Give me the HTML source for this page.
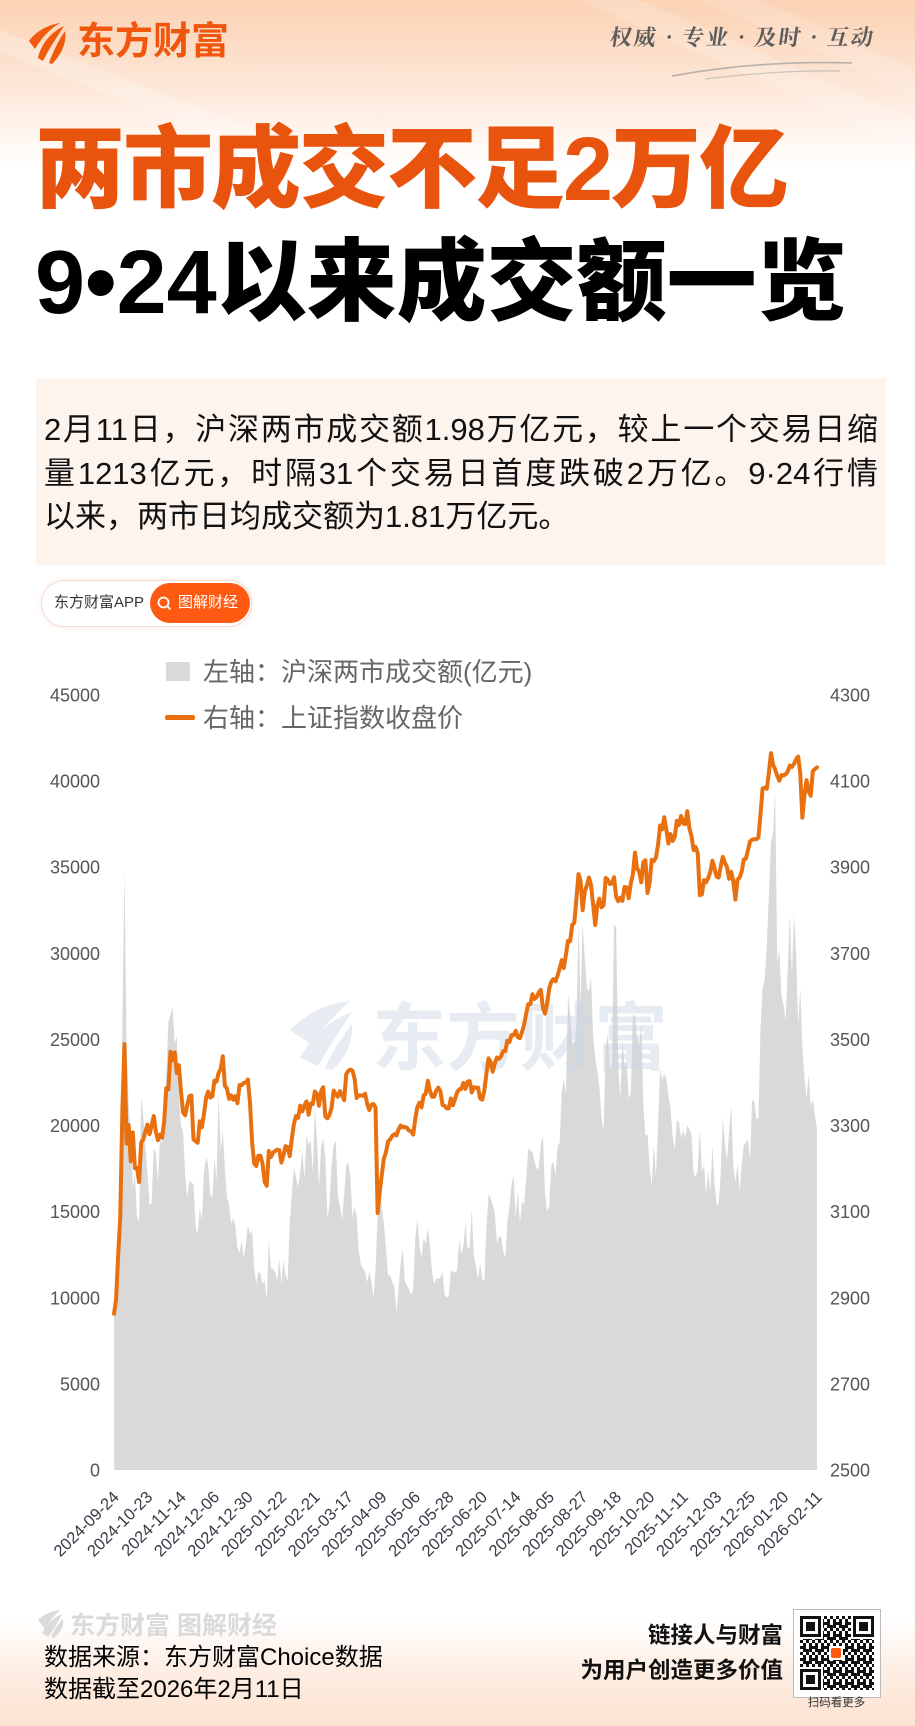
<!DOCTYPE html>
<html><head><meta charset="utf-8"><style>
*{margin:0;padding:0;box-sizing:border-box}
html,body{width:915px;height:1726px;overflow:hidden;background:#fff}
#root{position:relative;width:915px;height:1726px;overflow:hidden;background:#fff;font-family:"Liberation Sans","Noto Sans CJK SC",sans-serif}
.abs{position:absolute;white-space:nowrap}
.cn{font-family:"Liberation Sans","Noto Sans CJK SC",sans-serif}
.pl{position:absolute;left:44px;width:834px;font-size:31px;line-height:43.5px;color:#111;white-space:nowrap}
.j{text-align:justify;text-align-last:justify}
</style></head><body><div id="root">

<!-- header background -->
<div class="abs" style="left:0;top:0;width:915px;height:170px;background:linear-gradient(180deg,#fbd2b4 0%,#fcdcc4 25%,#fde9db 55%,#fff6f0 80%,#ffffff 100%)"></div>
<svg class="abs" style="left:0;top:0" width="915" height="170">
<polygon points="0,30 0,52 300,170 360,170" fill="#fff" opacity="0.22"/>
<polygon points="580,0 640,0 915,120 915,150" fill="#fff" opacity="0.18"/>
<polygon points="700,0 760,0 915,70 915,95" fill="#fff" opacity="0.15"/>
</svg>
<!-- bottom gradient -->
<div class="abs" style="left:0;top:1620px;width:915px;height:106px;background:linear-gradient(180deg,rgba(253,230,214,0) 0%,#fdeee4 45%,#fde3d1 100%)"></div>

<!-- logo -->
<svg class="abs" style="left:0;top:0" width="80" height="80">
<path d="M29,41 C36,31 48,25 60,23 C50,29 42,37 35,49 Z" fill="#f05a0e"/>
<path d="M38,58 C41,44 51,32 64,26 C57,37 50,47 43,61 Z" fill="#f05a0e"/>
<path d="M49,63 C53,51 59,40 65,31 C67,43 61,55 52,64 Z" fill="#f05a0e"/>
</svg>
<div class="abs cn" style="left:77px;top:23px;font-size:38px;line-height:38px;font-weight:700;color:#f0560e">东方财富</div>

<!-- slogan -->
<div class="abs cn" style="left:610px;top:24px;font-size:22px;line-height:26px;font-weight:700;color:#5c5c5c;letter-spacing:2px;transform:skewX(-8deg);font-family:'Noto Serif CJK SC','Liberation Serif',serif">权威 · 专业 · 及时 · 互动</div>
<svg class="abs" style="left:0;top:0" width="915" height="100">
<path d="M672,76 Q760,60 852,63" stroke="#9a9a9a" stroke-width="1.6" fill="none" opacity="0.7"/>
<path d="M705,79 Q780,70 840,71" stroke="#aaaaaa" stroke-width="1.2" fill="none" opacity="0.6"/>
</svg>

<!-- titles -->
<div class="abs cn" style="left:35px;top:125px;font-size:90px;line-height:90px;font-weight:900;color:#e8540e;letter-spacing:-2px">两市成交不足2万亿</div>
<div class="abs cn" style="left:35px;top:238px;font-size:90px;line-height:90px;font-weight:900;color:#000">9•24以来成交额一览</div>

<!-- text box -->
<div class="abs" style="left:36px;top:378px;width:850px;height:187px;background:#fef4ee"></div>
<div class="pl cn j" style="top:408px">2月11日，沪深两市成交额1.98万亿元，较上一个交易日缩</div>
<div class="pl cn j" style="top:451.5px">量1213亿元，时隔31个交易日首度跌破2万亿。9·24行情</div>
<div class="pl cn" style="top:495px">以来，两市日均成交额为1.81万亿元。</div>

<!-- app tag -->
<div class="abs" style="left:41px;top:580px;width:211px;height:47px;border-radius:24px;background:#fff;border:1px solid #f6ddd2;box-shadow:0 0 4px rgba(240,150,120,0.25)"></div>
<div class="abs cn" style="left:54px;top:592px;font-size:15px;line-height:22px;color:#333">东方财富APP</div>
<div class="abs" style="left:150px;top:583px;width:100px;height:40px;border-radius:20px;background:#ff5a12"></div>
<svg class="abs" style="left:156px;top:595px" width="18" height="18"><circle cx="7.5" cy="7.5" r="5" stroke="#fff" stroke-width="1.8" fill="none"/><line x1="11" y1="11" x2="14.5" y2="14.5" stroke="#fff" stroke-width="1.8"/></svg>
<div class="abs cn" style="left:178px;top:592px;font-size:15px;line-height:22px;color:#fff">图解财经</div>

<!-- legend -->
<div class="abs" style="left:166px;top:662px;width:24px;height:19px;background:#d9d9d9"></div>
<div class="abs cn" style="left:203px;top:655px;font-size:26px;line-height:34px;color:#666">左轴：沪深两市成交额(亿元)</div>
<div class="abs" style="left:165px;top:715px;width:30px;height:4.5px;background:#e8700f;border-radius:2px"></div>
<div class="abs cn" style="left:203px;top:701px;font-size:26px;line-height:34px;color:#666">右轴：上证指数收盘价</div>

<!-- chart -->
<svg class="abs" style="left:0;top:0" width="915" height="1726">
<g transform="translate(114,1470) scale(2.0923,-0.0172222)">
<polygon fill="#d9d9d9" points="0,0 0,9700 1,11600 2,11700 3,14400 4,25900 5,34800 6,24700 7,21200 8,19600 9,16400 10,17200 11,14700 12,14400 13,21700 14,20500 15,18800 16,17200 17,15400 18,15500 19,18700 20,18400 21,16700 22,19300 23,18900 24,20600 25,23000 26,26000 27,26400 28,26900 29,24700 30,25200 31,21800 32,20000 33,19600 34,17200 35,15800 36,16800 37,16700 38,16600 39,14100 40,13700 41,15200 42,14500 43,17300 44,18200 45,17700 46,16000 47,15800 48,18100 49,16800 50,21900 51,18500 52,19700 53,17500 54,15800 55,15400 56,14300 57,14600 58,14200 59,12900 60,12600 61,13300 62,12300 63,13100 64,14200 65,13700 66,13900 67,11700 68,10800 69,11500 70,11400 71,10800 72,11000 73,9900 74,13400 75,11700 76,11700 77,11500 78,11000 79,12300 80,10800 81,12200 82,11300 83,11000 84,14400 85,16000 86,17600 87,17000 88,16400 89,17300 90,18500 91,16900 92,19400 93,18900 94,19100 95,17300 96,21100 97,19100 98,16400 99,18800 100,19200 101,18100 102,14600 103,15400 104,17700 105,18900 106,19100 107,15900 108,15300 109,14500 110,16000 111,17700 112,17900 113,16900 114,14600 115,15300 116,14700 117,12700 118,11900 119,11700 120,11500 121,10900 122,11500 123,11000 124,10000 125,11600 126,14800 127,16700 128,15200 129,14300 130,12800 131,11300 132,11300 133,10900 134,10600 135,9200 136,10500 137,12000 138,12800 139,11000 140,10700 141,10500 142,10200 143,10500 144,13500 145,14600 146,13000 147,12300 148,13500 149,13100 150,14100 151,13000 152,11500 153,10800 154,11100 155,11100 156,11200 157,11500 158,10200 159,10000 160,10100 161,11600 162,11500 163,11500 164,11600 165,13400 166,12500 167,13000 168,14400 169,12800 170,13000 171,15100 172,12400 173,11800 174,11100 175,12000 176,11100 177,11000 178,14100 179,16000 180,15800 181,15400 182,14900 183,13200 184,13500 185,13600 186,12700 187,12300 188,14400 189,15300 190,16600 191,17100 192,14700 193,16200 194,14300 195,15600 196,15400 197,16900 198,18700 199,18500 200,18500 201,17900 202,17500 203,17500 204,18900 205,19400 206,16100 207,15000 208,15300 209,17700 210,17900 211,17100 212,18800 213,19000 214,21900 215,22700 216,21800 217,27600 218,26500 219,24800 220,24800 221,25800 222,31800 223,27000 224,31700 225,29700 226,28000 227,27800 228,28600 229,25200 230,23900 231,23200 232,22200 233,20400 234,19700 235,24500 236,25300 237,23200 238,23600 239,31700 240,31500 241,23400 242,21600 243,25000 244,23400 245,23700 246,21600 247,21800 248,26400 249,26400 250,25100 251,24700 252,25900 253,21200 254,19400 255,19500 256,17600 257,16500 258,18900 259,17000 260,19900 261,23300 262,22600 263,23000 264,22700 265,21700 266,21000 267,19400 268,18600 269,20300 270,20200 271,19300 272,19700 273,19300 274,20000 275,19800 276,19500 277,17200 278,17000 279,17500 280,19800 281,17300 282,17700 283,16000 284,17400 285,16100 286,18800 287,16700 288,15400 289,15400 290,17300 291,20500 292,18900 293,18000 294,19700 295,21200 296,17600 297,16700 298,17800 299,16200 300,17700 301,18900 302,19000 303,19200 304,18000 305,21500 306,21400 307,20400 308,20400 309,25600 310,28000 311,28500 312,30500 313,33400 314,36400 315,37000 316,39300 317,29500 318,30200 319,27500 320,27000 321,26100 322,29000 323,32300 324,28800 325,32300 326,30000 327,25800 328,28000 329,24600 330,22800 331,21600 332,23000 333,21100 334,21500 335,20600 336,19800 336,0"/>
</g>
<!-- watermark -->
<g opacity="0.45" fill="#c9d6e3">
<path d="M290,1030 C310,1010 330,1003 350,1001 C335,1015 322,1028 312,1045 Z"/>
<path d="M300,1058 C312,1036 330,1020 352,1012 C340,1030 330,1046 318,1066 Z"/>
<path d="M325,1068 C333,1050 343,1036 352,1024 C353,1042 346,1058 332,1070 Z"/>
<text x="372" y="1064" font-size="74" font-weight="700" font-family="Liberation Sans,Noto Sans CJK SC,sans-serif">东方财富</text>
</g>
<g transform="translate(114,1470) scale(2.0923,-0.43056) translate(0,-2500)">
<polyline fill="none" stroke="#e8700f" stroke-width="4" stroke-linejoin="round" stroke-linecap="round" vector-effect="non-scaling-stroke" points="0,2863 1,2896 2,3000 3,3088 4,3336 5,3489 6,3258 7,3301 8,3217 9,3284 10,3201 11,3202 12,3169 13,3261 14,3268 15,3286 16,3302 17,3280 18,3300 19,3322 20,3286 21,3266 22,3279 23,3272 24,3310 25,3387 26,3384 27,3471 28,3452 29,3470 30,3422 31,3440 32,3380 33,3331 34,3324 35,3347 36,3368 37,3370 38,3268 39,3264 40,3260 41,3310 42,3296 43,3326 44,3364 45,3379 46,3365 47,3368 48,3404 49,3402 50,3422 51,3432 52,3461 53,3392 54,3386 55,3362 56,3370 57,3360 58,3368 59,3352 60,3394 61,3394 62,3399 63,3400 64,3407 65,3352 66,3262 67,3212 68,3206 69,3230 70,3230 71,3211 72,3169 73,3160 74,3241 75,3227 76,3237 77,3241 78,3244 79,3243 80,3214 81,3231 82,3252 83,3250 84,3229 85,3270 86,3304 87,3322 88,3318 89,3346 90,3333 91,3347 92,3356 93,3325 94,3351 95,3350 96,3379 97,3373 98,3346 99,3380 100,3389 101,3321 102,3317 103,3325 104,3342 105,3381 106,3373 107,3367 108,3380 109,3371 110,3359 111,3419 112,3427 113,3430 114,3427 115,3408 116,3364 117,3370 118,3370 119,3369 120,3374 121,3351 122,3336 123,3348 124,3350 125,3342 126,3097 127,3146 128,3186 129,3224 130,3238 131,3263 132,3268 133,3276 134,3280 135,3277 136,3291 137,3300 138,3296 139,3297 140,3295 141,3288 142,3287 143,3279 144,3316 145,3343 146,3353 147,3342 148,3370 149,3374 150,3404 151,3381 152,3367 153,3367 154,3381 155,3388 156,3380 157,3348 158,3346 159,3340 160,3340 161,3363 162,3347 163,3362 164,3377 165,3384 166,3385 167,3399 168,3385 169,3402 170,3403 171,3377 172,3389 173,3388 174,3388 175,3363 176,3360 177,3382 178,3420 179,3456 180,3448 181,3425 182,3444 183,3458 184,3455 185,3461 186,3473 187,3473 188,3497 189,3494 190,3510 191,3510 192,3520 193,3505 194,3503 195,3517 196,3534 197,3560 198,3582 199,3582 200,3605 201,3594 202,3598 203,3609 204,3615 205,3573 206,3560 207,3583 208,3618 209,3634 210,3640 211,3635 212,3648 213,3665 214,3684 215,3666 216,3697 217,3729 218,3728 219,3766 220,3771 221,3826 222,3884 223,3868 224,3800 225,3844 226,3858 227,3876 228,3858 229,3813 230,3766 231,3812 232,3827 233,3807 234,3812 235,3875 236,3871 237,3861 238,3862 239,3877 240,3831 241,3821 242,3829 243,3822 244,3854 245,3853 246,3828 247,3863 248,3883 249,3934 250,3897 251,3890 252,3865 253,3912 254,3916 255,3840 256,3864 257,3917 258,3914 259,3922 260,3951 261,3997 262,3988 263,4016 264,3987 265,3955 266,3977 267,3961 268,3970 269,4008 270,3998 271,4019 272,4002 273,4000 274,4030 275,3991 276,3972 277,3940 278,3947 279,3932 280,3835 281,3837 282,3870 283,3865 284,3875 285,3889 286,3915 287,3898 288,3878 289,3876 290,3903 291,3924 292,3910 293,3900 294,3873 295,3889 296,3867 297,3825 298,3871 299,3876 300,3890 301,3918 302,3920 303,3940 304,3960 305,3964 306,3965 307,3965 308,3969 309,4023 310,4083 311,4085 312,4082 313,4120 314,4165 315,4138 316,4127 317,4112 318,4101 319,4114 320,4113 321,4116 322,4122 323,4136 324,4133 325,4140 326,4151 327,4157 328,4118 329,4015 330,4068 331,4102 332,4076 333,4066 334,4123 335,4128 336,4132"/>
</g>

<!-- y axis labels -->
<g font-family="Liberation Sans,sans-serif" font-size="18" fill="#555">
<g text-anchor="end">
<text x="100" y="701.5">45000</text>
<text x="100" y="787.6">40000</text>
<text x="100" y="873.7">35000</text>
<text x="100" y="959.8">30000</text>
<text x="100" y="1045.9">25000</text>
<text x="100" y="1132.1">20000</text>
<text x="100" y="1218.2">15000</text>
<text x="100" y="1304.3">10000</text>
<text x="100" y="1390.4">5000</text>
<text x="100" y="1476.5">0</text>
</g>
<text x="830" y="701.5">4300</text>
<text x="830" y="787.6">4100</text>
<text x="830" y="873.7">3900</text>
<text x="830" y="959.8">3700</text>
<text x="830" y="1045.9">3500</text>
<text x="830" y="1132.1">3300</text>
<text x="830" y="1218.2">3100</text>
<text x="830" y="1304.3">2900</text>
<text x="830" y="1390.4">2700</text>
<text x="830" y="1476.5">2500</text>
</g>

<!-- x axis labels -->
<g font-family="Liberation Sans,sans-serif" font-size="16.5" fill="#3a3a48" text-anchor="end">
<text transform="translate(120,1498) rotate(-45)">2024-09-24</text>
<text transform="translate(153.5,1498) rotate(-45)">2024-10-23</text>
<text transform="translate(187,1498) rotate(-45)">2024-11-14</text>
<text transform="translate(220.4,1498) rotate(-45)">2024-12-06</text>
<text transform="translate(253.9,1498) rotate(-45)">2024-12-30</text>
<text transform="translate(287.4,1498) rotate(-45)">2025-01-22</text>
<text transform="translate(320.9,1498) rotate(-45)">2025-02-21</text>
<text transform="translate(354.3,1498) rotate(-45)">2025-03-17</text>
<text transform="translate(387.8,1498) rotate(-45)">2025-04-09</text>
<text transform="translate(421.3,1498) rotate(-45)">2025-05-06</text>
<text transform="translate(454.8,1498) rotate(-45)">2025-05-28</text>
<text transform="translate(488.2,1498) rotate(-45)">2025-06-20</text>
<text transform="translate(521.7,1498) rotate(-45)">2025-07-14</text>
<text transform="translate(555.2,1498) rotate(-45)">2025-08-05</text>
<text transform="translate(588.7,1498) rotate(-45)">2025-08-27</text>
<text transform="translate(622.2,1498) rotate(-45)">2025-09-18</text>
<text transform="translate(655.6,1498) rotate(-45)">2025-10-20</text>
<text transform="translate(689.1,1498) rotate(-45)">2025-11-11</text>
<text transform="translate(722.6,1498) rotate(-45)">2025-12-03</text>
<text transform="translate(756.1,1498) rotate(-45)">2025-12-25</text>
<text transform="translate(789.5,1498) rotate(-45)">2026-01-20</text>
<text transform="translate(823,1498) rotate(-45)">2026-02-11</text>
</g>

<!-- footer watermark -->
<g fill="#dadada">
<path d="M38,1620 C44,1614 52,1611 60,1610 C54,1616 49,1622 45,1629 Z"/>
<path d="M42,1633 C46,1625 53,1618 62,1614 C58,1622 54,1629 48,1637 Z"/>
<path d="M51,1637 C54,1630 58,1624 63,1619 C64,1627 60,1633 54,1638 Z"/>
<text x="70" y="1634" font-size="25" font-weight="700" font-family="Liberation Sans,Noto Sans CJK SC,sans-serif">东方财富 图解财经</text>
</g>

<!-- QR code -->
<defs>
<pattern id="qr" x="800" y="1616" width="12" height="12" patternUnits="userSpaceOnUse">
<rect x="0" y="0" width="3" height="3" fill="#111"/><rect x="6" y="0" width="3" height="3" fill="#111"/>
<rect x="3" y="3" width="3" height="3" fill="#111"/><rect x="9" y="3" width="3" height="3" fill="#111"/>
<rect x="0" y="6" width="6" height="3" fill="#111"/><rect x="9" y="6" width="3" height="3" fill="#111"/>
<rect x="6" y="9" width="6" height="3" fill="#111"/><rect x="3" y="9" width="3" height="3" fill="#111"/>
</pattern>
</defs>
<rect x="793.5" y="1609.5" width="87" height="88" fill="#fff" stroke="#bbb" stroke-width="1"/>
<rect x="800" y="1616" width="74" height="74" fill="url(#qr)"/>
<g>
<rect x="799" y="1615" width="24" height="24" fill="#fff"/><rect x="800" y="1616" width="21" height="21" fill="#111"/><rect x="803" y="1619" width="15" height="15" fill="#fff"/><rect x="806" y="1622" width="9" height="9" fill="#111"/>
<rect x="851" y="1615" width="24" height="24" fill="#fff"/><rect x="853" y="1616" width="21" height="21" fill="#111"/><rect x="856" y="1619" width="15" height="15" fill="#fff"/><rect x="859" y="1622" width="9" height="9" fill="#111"/>
<rect x="799" y="1667" width="24" height="24" fill="#fff"/><rect x="800" y="1669" width="21" height="21" fill="#111"/><rect x="803" y="1672" width="15" height="15" fill="#fff"/><rect x="806" y="1675" width="9" height="9" fill="#111"/>
<rect x="829" y="1646" width="14" height="14" fill="#fff"/><rect x="831" y="1648" width="10" height="10" rx="2" fill="#ff5a12"/>
</g>
</svg>

<div class="abs cn" style="left:44px;top:1643px;font-size:24px;line-height:30px;color:#000">数据来源：东方财富Choice数据</div>
<div class="abs cn" style="left:44px;top:1675px;font-size:24px;line-height:30px;color:#000">数据截至2026年2月11日</div>

<div class="abs cn" style="left:583px;width:200px;top:1622px;font-size:22.5px;line-height:28px;font-weight:700;color:#111;text-align:right">链接人与财富</div>
<div class="abs cn" style="left:563px;width:220px;top:1657px;font-size:22.5px;line-height:28px;font-weight:700;color:#111;text-align:right">为用户创造更多价值</div>
<div class="abs cn" style="left:793px;width:87px;top:1696px;font-size:11.5px;line-height:15px;color:#333;text-align:center">扫码看更多</div>

</div></body></html>
